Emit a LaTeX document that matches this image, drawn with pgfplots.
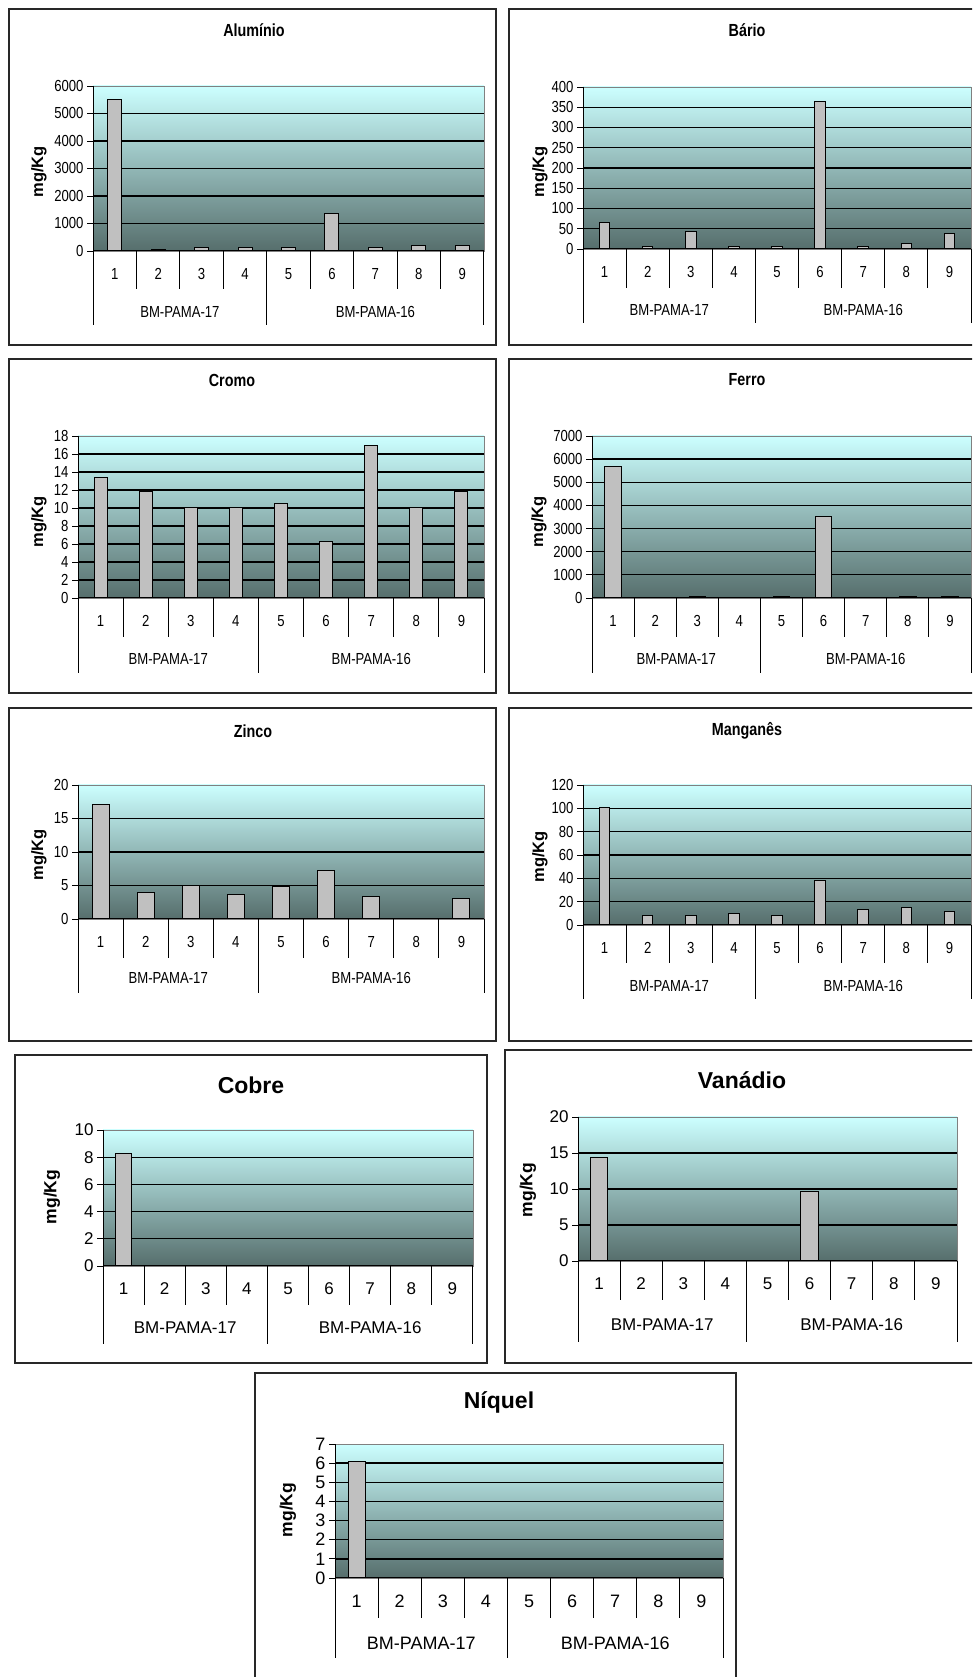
\documentclass[border=0pt]{standalone}
\usepackage{fontspec}
\setmainfont{Liberation Sans}
\newfontfamily\narrow[FakeStretch=0.82]{Liberation Sans}
\usepackage{pgfplots}
\pgfplotsset{compat=1.18}

\definecolor{skytop}{RGB}{204,255,255}
\definecolor{skybot}{RGB}{86,110,108}
\definecolor{bargray}{RGB}{192,192,192}
\definecolor{framegray}{RGB}{40,40,40}

% fonts: condensed set for the upper panels, regular set for the lower ones
\newcommand\fA{\narrow\fontsize{16}{16}\selectfont}
\newcommand\fAt{\narrow\bfseries\fontsize{17.5}{18}\selectfont}
\newcommand\fAl{\bfseries\fontsize{16.5}{18}\selectfont}
\newcommand\fB{\fontsize{17}{17}\selectfont}
\newcommand\fBn{\fontsize{18}{18}\selectfont}
\newcommand\fBt{\bfseries\fontsize{23}{24}\selectfont}
\newcommand\fBl{\bfseries\fontsize{17.5}{18}\selectfont}

\pgfplotsset{
  elem/.style={
    scale only axis, anchor=south west, clip=false,
    xmin=0.5, xmax=9.5, ymin=0,
    ybar,
    axis background/.style={top color=skytop, bottom color=skybot},
    axis line style={draw=gray, line width=0.8pt},
    xtick={1,...,9}, xtick style={draw=none}, xtick pos=bottom,
    ytick pos=left, tick align=outside, major tick length=6pt,
    ytick style={black, line width=0.8pt},
    ymajorgrids, grid style={black, line width=1.3pt},
    extra y tick style={grid=none},
    scaled y ticks=false,
    /pgf/number format/assume math mode=true,
    /pgf/number format/1000 sep={},
    yticklabel style={anchor=east},
    xticklabel style={anchor=center, yshift=-17pt},
  },
  small/.style={ticklabel style={font=\fA}},
  large/.style={ticklabel style={font=\fB}},
  bars/.style={fill=bargray, draw=black, line width=1pt},
}

% category grid below each panel: short dividers between samples,
% long ones around the two wells, and the well names
\newcommand\cats[4]{%
  \draw[black, line width=1pt] (rel axis cs:0,1) -- (rel axis cs:0,0) -- (rel axis cs:1,0);
  \draw[black, line width=1pt]
    (axis cs:0.5,0) -- ++(0pt,-#2pt) (axis cs:4.5,0) -- ++(0pt,-#2pt) (axis cs:9.5,0) -- ++(0pt,-#2pt)
    (axis cs:1.5,0) -- ++(0pt,-#1pt) (axis cs:2.5,0) -- ++(0pt,-#1pt) (axis cs:3.5,0) -- ++(0pt,-#1pt)
    (axis cs:5.5,0) -- ++(0pt,-#1pt) (axis cs:6.5,0) -- ++(0pt,-#1pt) (axis cs:7.5,0) -- ++(0pt,-#1pt)
    (axis cs:8.5,0) -- ++(0pt,-#1pt);
  \node[font=#4, yshift=-#3pt] at (axis cs:2.5,0) {BM-PAMA-17};
  \node[font=#4, yshift=-#3pt] at (axis cs:7,0) {BM-PAMA-16};
}

\begin{document}
\begin{tikzpicture}[x=1pt,y=1pt]
\fill[white] (0,0) rectangle (972,1677);
\useasboundingbox (0,0) rectangle (972,1677);
\clip (0,0) rectangle (972,1677);

% panel frames
\begin{scope}[framegray, line width=1.5pt]
\draw (9,1668) rectangle (496,1332);
\draw (509,1668) rectangle (990,1332);
\draw (9,1318) rectangle (496,984);
\draw (509,1318) rectangle (990,984);
\draw (9,969) rectangle (496,636);
\draw (509,969) rectangle (990,636);
\draw (15,622) rectangle (487,314);
\draw (505,627) rectangle (990,314);
\draw (255,304) rectangle (736,-20);
\end{scope}

% Aluminio
\begin{axis}[elem, small, at={(93pt,1426pt)}, width=391pt, height=165pt,
  ymax=6000, ytick={0,1000,...,5000}, extra y ticks={6000}, bar width=14pt]
\addplot[bars] coordinates {(1,5500) (2,50) (3,130) (4,130) (5,130) (6,1360) (7,130) (8,190) (9,190)};
\cats{38}{74}{61}{\fA}
\end{axis}
\node[font=\fAt] at (254,1647) {Alumínio};
\node[font=\fAl, rotate=90] at (39,1505) {mg/Kg};

% Bario
\begin{axis}[elem, small, at={(583pt,1428pt)}, width=388pt, height=162pt,
  ymax=400, ytick={0,50,...,350}, extra y ticks={400}, bar width=10.5pt]
\addplot[bars] coordinates {(1,66) (2,5) (3,43) (4,5) (5,5) (6,364) (7,5) (8,14) (9,37)};
\cats{39}{74}{61}{\fA}
\end{axis}
\node[font=\fAt] at (747,1647) {Bário};
\node[font=\fAl, rotate=90] at (540,1505) {mg/Kg};

% Cromo
\begin{axis}[elem, small, at={(78pt,1079pt)}, width=406pt, height=162pt,
  ymax=18, ytick={0,2,...,16}, extra y ticks={18}, bar width=13pt]
\addplot[bars] coordinates {(1,13.4) (2,11.8) (3,10) (4,10) (5,10.5) (6,6.3) (7,16.9) (8,10) (9,11.8)};
\cats{39}{75}{61}{\fA}
\end{axis}
\node[font=\fAt] at (232,1297) {Cromo};
\node[font=\fAl, rotate=90] at (39,1155) {mg/Kg};

% Ferro
\begin{axis}[elem, small, at={(592pt,1079pt)}, width=379pt, height=162pt,
  ymax=7000, ytick={0,1000,...,6000}, extra y ticks={7000}, bar width=16.5pt]
\addplot[bars] coordinates {(1,5700) (3,80) (5,80) (6,3500) (8,80) (9,80)};
\cats{39}{75}{61}{\fA}
\end{axis}
\node[font=\fAt] at (747,1297) {Ferro};
\node[font=\fAl, rotate=90] at (539,1155) {mg/Kg};

% Zinco
\begin{axis}[elem, small, at={(78pt,758pt)}, width=406pt, height=134pt,
  ymax=20, ytick={0,5,10,15}, extra y ticks={20}, bar width=17pt]
\addplot[bars] coordinates {(1,17.1) (2,3.9) (3,5.0) (4,3.7) (5,4.8) (6,7.3) (7,3.4) (9,3.1)};
\cats{39}{74}{59}{\fA}
\end{axis}
\node[font=\fAt] at (253,946) {Zinco};
\node[font=\fAl, rotate=90] at (39,822) {mg/Kg};

% Manganes
\begin{axis}[elem, small, at={(583pt,752pt)}, width=388pt, height=140pt,
  ymax=120, ytick={0,20,...,100}, extra y ticks={120}, bar width=10.5pt]
\addplot[bars] coordinates {(1,101) (2,8.3) (3,8.3) (4,10) (5,8.3) (6,38.5) (7,13) (8,14.6) (9,11.7)};
\cats{38}{74}{61}{\fA}
\end{axis}
\node[font=\fAt] at (747,946) {Manganês};
\node[font=\fAl, rotate=90] at (540,820) {mg/Kg};

% Cobre
\begin{axis}[elem, large, at={(103pt,411pt)}, width=370pt, height=136pt,
  ymax=10, ytick={0,2,...,8}, extra y ticks={10}, bar width=15.7pt]
\addplot[bars] coordinates {(1,8.3)};
\cats{39}{78}{62}{\fB}
\end{axis}
\node[font=\fBt] at (251,592) {Cobre};
\node[font=\fBl, rotate=90] at (52,480) {mg/Kg};

% Vanadio
\begin{axis}[elem, large, at={(578pt,416pt)}, width=379pt, height=144pt,
  ymax=20, ytick={0,5,10,15}, extra y ticks={20}, bar width=17.3pt]
\addplot[bars] coordinates {(1,14.4) (6,9.6)};
\cats{39}{81}{64}{\fB}
\end{axis}
\node[font=\fBt] at (742,597) {Vanádio};
\node[font=\fBl, rotate=90] at (528,487) {mg/Kg};

% Niquel
\begin{axis}[elem, ticklabel style={font=\fBn}, at={(335pt,99pt)}, width=388pt, height=134pt,
  ymax=7, ytick={0,1,...,6}, extra y ticks={7}, bar width=17pt]
\addplot[bars] coordinates {(1,6.1)};
\cats{40}{80}{65}{\fBn}
\end{axis}
\node[font=\fBt] at (499,275) {Níquel};
\node[font=\fBl, rotate=90] at (288,167) {mg/Kg};
\end{tikzpicture}
\end{document}
